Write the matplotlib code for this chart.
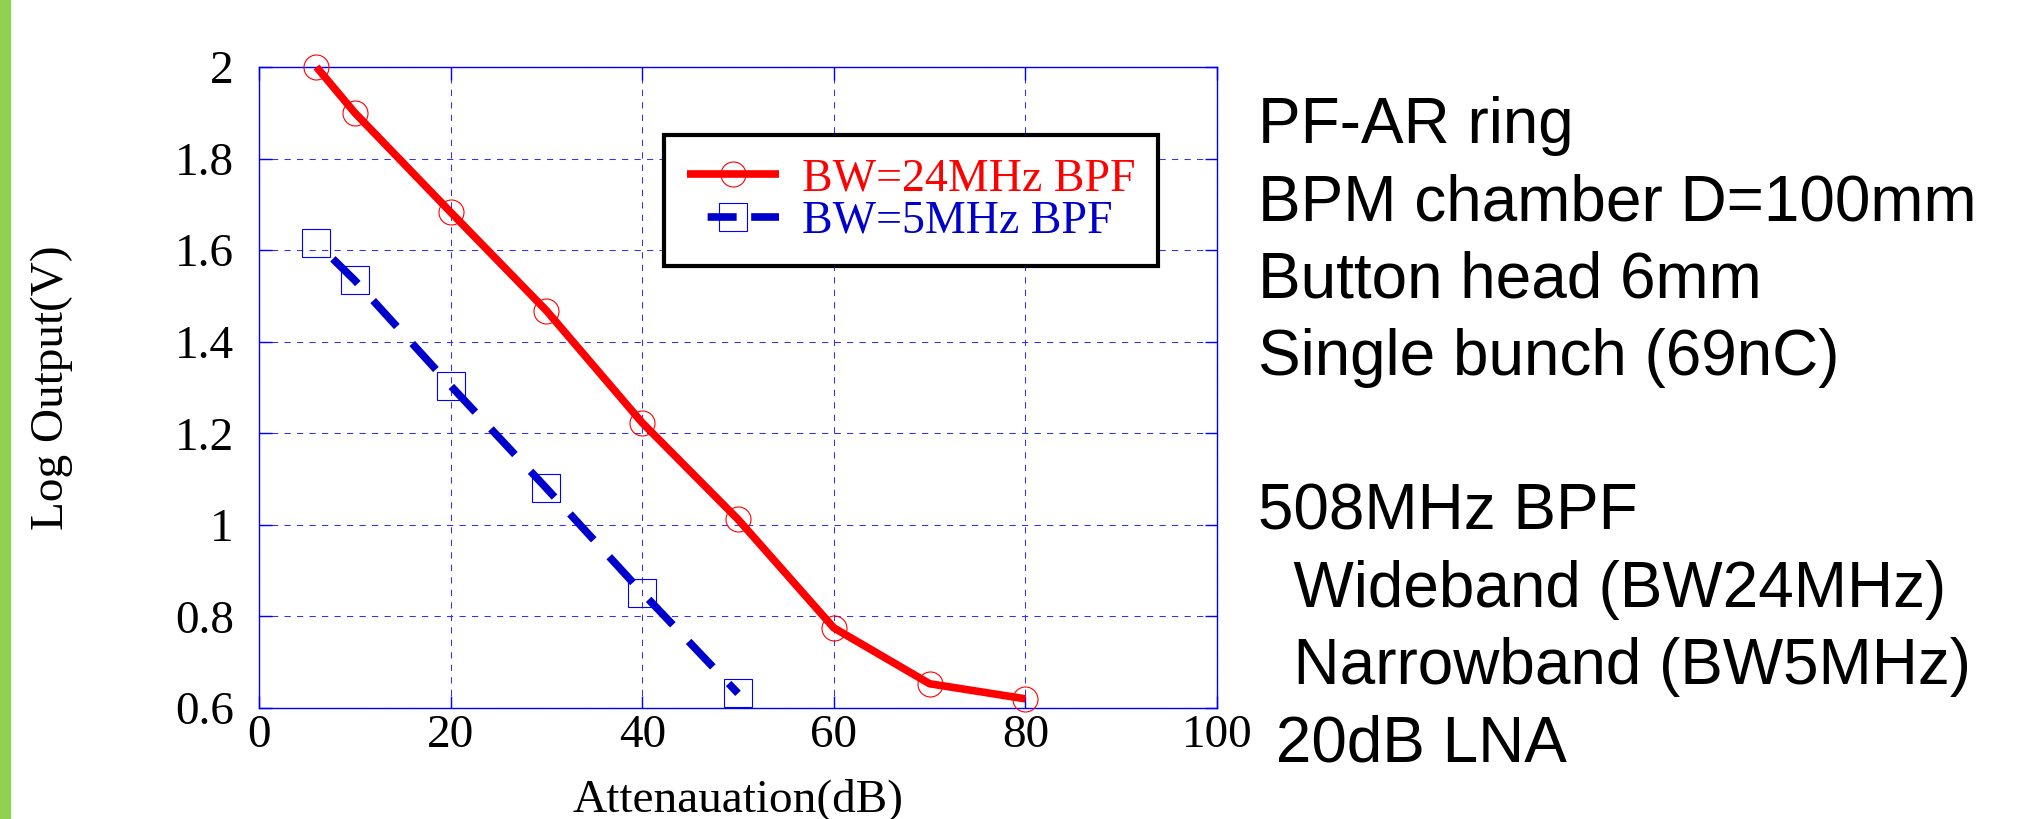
import numpy as np
import matplotlib
matplotlib.use("Agg")
import matplotlib.pyplot as plt
from matplotlib.patches import Rectangle

# data
atten_wide = [6, 10, 20, 30, 40, 50, 60, 70, 80]
log_wide = [2.0, 1.90, 1.683, 1.468, 1.223, 1.012, 0.775, 0.653, 0.620]
atten_narrow = [6, 10, 20, 30, 40, 50]
log_narrow = [1.616, 1.534, 1.304, 1.080, 0.852, 0.632]

labels = ['BW=24MHz BPF', 'BW=5MHz BPF']
xticks = [0, 20, 40, 60, 80, 100]
yticks = [0.6, 0.8, 1.0, 1.2, 1.4, 1.6, 1.8, 2.0]

notes = ['PF-AR ring',
         'BPM chamber D=100mm',
         'Button head 6mm',
         'Single bunch (69nC)',
         '',
         '508MHz BPF',
         '  Wideband (BW24MHz)',
         '  Narrowband (BW5MHz)',
         ' 20dB LNA']

serif = 'Liberation Serif'
sans = 'Liberation Sans'
red = '#FF0000'
blue = '#0000CC'
gridblue = '#3030FF'

W, H = 2030, 819
fig = plt.figure(figsize=(W / 100, H / 100), dpi=100)

# green bar on the slide's left edge
fig.patches.append(Rectangle((0, 0), 10 / W, 1, transform=fig.transFigure,
                             color='#92D050', zorder=0))

ax = fig.add_axes([259 / W, 1 - 708 / H, 958 / W, 641 / H])

ax.plot(atten_wide, log_wide, color=red, lw=5.5, marker='o', ms=18,
        mfc='none', mec=red, mew=0.8, clip_on=False, label=labels[0],
        solid_capstyle='butt', zorder=3)
ax.plot(atten_narrow, log_narrow, color=blue, lw=5.5, ls=(4.6, (4.6, 3.0)),
        marker='s', ms=19.5, mfc='none', mec='#0000FF', mew=0.8,
        clip_on=False, label=labels[1], dash_capstyle='butt', zorder=3)

ax.set_xlim(0, 100)
ax.set_ylim(0.6, 2.0)
ax.set_xticks(xticks)
ax.set_yticks(yticks)
ax.set_yticklabels(['%g' % v for v in yticks])
ax.grid(True, color=gridblue, ls=(0, (6, 6)), lw=0.75)

for s in ax.spines.values():
    s.set_color('#0000FF')
    s.set_linewidth(1)

ax.tick_params(axis='both', direction='in', length=9, width=1,
               color='#0000FF', top=True, right=True, labelsize=34)
ax.tick_params(axis='y', pad=18)
ax.tick_params(axis='x', pad=5)
for t in ax.get_xticklabels() + ax.get_yticklabels():
    t.set_fontfamily(serif)

ax.set_xlabel('Attenauation(dB)', fontsize=34, family=serif)
ax.set_ylabel('Log Output(V)', fontsize=34, family=serif)
ax.xaxis.set_label_coords(0.5, -0.109)
ax.yaxis.set_label_coords(-0.194, 0.5)

leg = ax.legend(loc='upper left', bbox_to_anchor=(0.423, 0.894),
                borderaxespad=0, fancybox=False, framealpha=1,
                edgecolor='black', prop={'family': serif, 'size': 33},
                handlelength=2.0, handletextpad=0.5, labelspacing=0.0,
                borderpad=0.5, numpoints=1)
leg.get_frame().set_linewidth(3)
# legend sample for the dashed series: gap, dash, short gap, dash
leg.legend_handles[1].set_linestyle((9.5, (3.8, 1.9, 3.8, 2.7)))
for txt, c in zip(leg.get_texts(), [red, blue]):
    txt.set_color(c)

# notes on the right of the plot
for i, line in enumerate(notes):
    if not line:
        continue
    y = 126 + i * 77.3
    fig.text(1258 / W, 1 - y / H, line, family=sans, fontsize=46,
             ha='left', va='center')

fig.savefig('out.png', dpi=100)
